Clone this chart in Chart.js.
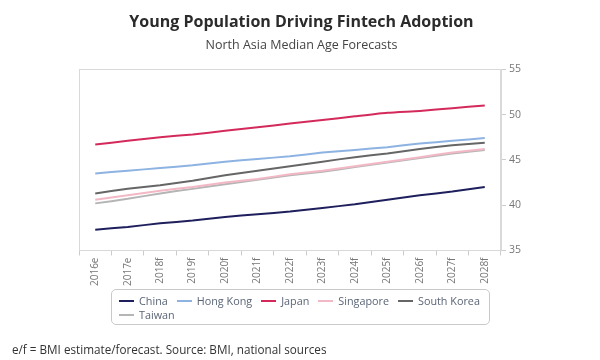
<!DOCTYPE html>
<html>
<head>
<meta charset="utf-8">
<script src="https://cdn.jsdelivr.net/npm/chart.js@4/dist/chart.umd.min.js"></script>
<style>
  html, body { margin: 0; padding: 0; background: #fff; }
  #wrap { position: relative; width: 600px; height: 360px; font-family: "Open Sans", sans-serif; }
  canvas { position: absolute; left: 0; top: 0; }
  #legend { position: absolute; left: 111px; top: 289px; width: 379px; height: 36px;
    border: 1px solid #c9c9c9; border-radius: 5px; box-sizing: border-box; padding: 4px 0 0 7px;
    font-size: 10.8px; color: #5a6475; line-height: 13.5px; white-space: nowrap; }
  #legend span.item { display: inline-block; margin-right: 9px; }
  #legend span.sw { display: inline-block; width: 15px; height: 2px; vertical-align: middle; margin-right: 5px; position: relative; top: -1px; }
  #foot { position: absolute; left: 12px; top: 341px; font-size: 11.7px; color: #333; }
</style>
</head>
<body>
<div id="wrap">
  <canvas id="c" width="600" height="360"></canvas>
  <div id="legend"></div>
  <div id="foot">e/f = BMI estimate/forecast. Source: BMI, national sources</div>
</div>
<script>
const categories = ["2016e","2017e","2018f","2019f","2020f","2021f","2022f","2023f","2024f","2025f","2026f","2027f","2028f"];
const china     = [37.3, 37.6, 38.0, 38.3, 38.7, 39.0, 39.3, 39.7, 40.1, 40.6, 41.1, 41.5, 42.0];
const hongKong  = [43.5, 43.8, 44.1, 44.4, 44.8, 45.1, 45.4, 45.8, 46.1, 46.4, 46.8, 47.1, 47.4];
const japan     = [46.7, 47.1, 47.5, 47.8, 48.2, 48.6, 49.0, 49.4, 49.8, 50.2, 50.4, 50.7, 51.0];
const singapore = [40.6, 41.1, 41.6, 42.0, 42.5, 42.9, 43.4, 43.8, 44.3, 44.8, 45.3, 45.8, 46.2];
const southKorea= [41.3, 41.8, 42.2, 42.7, 43.3, 43.8, 44.3, 44.8, 45.3, 45.7, 46.2, 46.6, 46.9];
const taiwan    = [40.2, 40.7, 41.3, 41.8, 42.3, 42.8, 43.3, 43.7, 44.2, 44.7, 45.2, 45.7, 46.1];
const yTicks = [35, 40, 45, 50, 55];

const seriesNames = ["China","Hong Kong","Japan","Singapore","South Korea","Taiwan"];
const seriesData = [china, hongKong, japan, singapore, southKorea, taiwan];
const seriesColors = ["#1e1f5c","#8db3e2","#d42a5b","#f3b8c5","#666666","#b5b5b5"];

const frame = {
  id: 'frame',
  beforeDatasetsDraw(chart) {
    const a = chart.chartArea, ctx = chart.ctx;
    ctx.save();
    ctx.strokeStyle = '#d9d9d9';
    ctx.lineWidth = 1;
    ctx.strokeRect(Math.round(a.left) + 0.5, Math.round(a.top) + 0.5, Math.round(a.right - a.left), Math.round(a.bottom - a.top));
    ctx.restore();
  }
};

const chart = new Chart(document.getElementById('c'), {
  type: 'line',
  data: {
    labels: categories,
    datasets: seriesNames.map((n, i) => ({
      label: n, data: seriesData[i], borderColor: seriesColors[i], backgroundColor: seriesColors[i],
      borderWidth: 2, pointRadius: 0, tension: 0.2, fill: false
    }))
  },
  options: {
    responsive: false, animation: false,
    layout: { padding: { left: 79, right: 76, top: 11, bottom: 72 } },
    plugins: {
      legend: { display: false },
      tooltip: { enabled: false },
      title: { display: true, text: 'Young Population Driving Fintech Adoption',
        font: { family: 'Open Sans', size: 16, weight: 'bold' }, color: '#2b2b2b', padding: { top: 2, bottom: 6 } },
      subtitle: { display: true, text: 'North Asia Median Age Forecasts',
        font: { family: 'Open Sans', size: 12.5 }, color: '#444', padding: { top: 0, bottom: 16 } }
    },
    scales: {
      x: {
        offset: true,
        grid: { display: true, drawOnChartArea: false, offset: true, tickLength: 5, color: '#cccccc' },
        border: { color: '#d9d9d9' },
        ticks: { minRotation: 90, maxRotation: 90, autoSkip: false, color: '#777', padding: 2,
          font: { family: 'Open Sans', size: 10 } }
      },
      y: {
        position: 'right', min: 35, max: 55,
        afterBuildTicks(axis) { axis.ticks = yTicks.map(v => ({ value: v })); },
        grid: { display: true, drawOnChartArea: false, tickLength: 5, color: '#cccccc' },
        border: { color: '#d9d9d9' },
        ticks: { color: '#777', padding: 3, font: { family: 'Open Sans', size: 10.5 } }
      }
    }
  },
  plugins: [frame]
});

const lg = document.getElementById('legend');
seriesNames.forEach((n, i) => {
  const s = document.createElement('span'); s.className = 'item';
  const sw = document.createElement('span'); sw.className = 'sw'; sw.style.background = seriesColors[i];
  s.appendChild(sw); s.appendChild(document.createTextNode(n));
  lg.appendChild(s);
  if (i === 4) lg.appendChild(document.createElement('br'));
});
</script>
</body>
</html>
